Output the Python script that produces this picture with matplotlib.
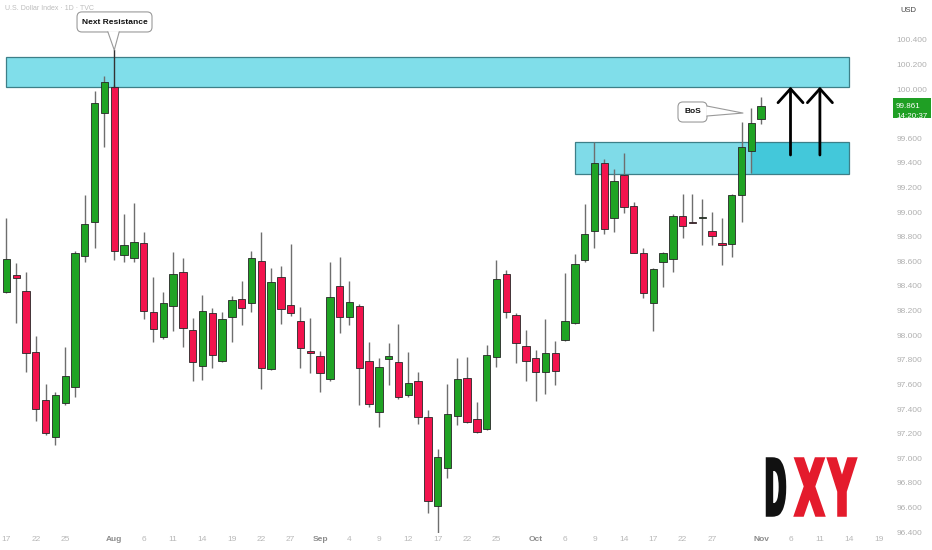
import numpy as np
import matplotlib
matplotlib.use('Agg')
import matplotlib.pyplot as plt
from matplotlib.patches import Rectangle, FancyBboxPatch, Polygon, PathPatch
from matplotlib.textpath import TextPath
from matplotlib.font_manager import FontProperties
from matplotlib.transforms import Affine2D

plt.rcParams['font.family'] = ['Liberation Sans', 'DejaVu Sans']

# 일봉 데이터 (7/17 ~ 11/3, 거래일 기준)
opens = [98.354, 98.489, 98.359, 97.866, 97.473, 97.175, 97.451, 97.576, 98.644, 98.923,
         99.804, 100.015, 98.652, 98.625, 98.752, 98.191, 97.983, 98.237, 98.511, 98.042,
         97.752, 98.183, 97.793, 98.150, 98.294, 98.259, 98.606, 97.725, 98.471, 98.246,
         98.118, 97.872, 97.833, 97.644, 98.400, 98.150, 98.240, 97.790, 97.378, 97.804,
         97.785, 97.514, 97.628, 97.337, 96.614, 96.923, 97.346, 97.650, 97.316, 97.237,
         97.820, 98.498, 98.164, 97.912, 97.817, 97.703, 97.853, 97.961, 98.097, 98.611,
         98.847, 99.398, 98.950, 99.305, 99.053, 98.671, 98.259, 98.595, 98.617, 98.969,
         98.920, 98.950, 98.845, 98.750, 98.741, 99.140, 99.500, 99.758]
highs = [98.950, 98.585, 98.511, 97.994, 97.603, 97.541, 97.907, 98.687, 99.142, 99.988,
         100.110, 100.030, 98.985, 99.077, 98.837, 98.476, 98.349, 98.674, 98.625, 98.137,
         98.327, 98.219, 98.186, 98.319, 98.441, 98.687, 98.837, 98.544, 98.563, 98.739,
         98.227, 98.137, 97.872, 98.598, 98.638, 98.443, 98.254, 97.942, 97.812, 97.934,
         98.089, 97.861, 97.703, 97.392, 97.072, 97.603, 97.812, 97.825, 97.457, 97.920,
         98.611, 98.530, 98.183, 98.042, 97.880, 98.132, 97.953, 98.503, 98.660, 99.064,
         99.568, 99.433, 99.349, 99.484, 99.081, 98.707, 98.550, 98.680, 98.983, 99.146,
         99.146, 99.105, 99.004, 98.950, 99.150, 99.731, 99.850, 99.934]
lows = [98.341, 98.102, 97.703, 97.305, 97.189, 97.107, 97.433, 97.495, 98.593, 98.707,
        99.528, 98.611, 98.598, 98.593, 98.132, 97.947, 97.967, 98.037, 97.902, 97.628,
        97.636, 97.731, 97.785, 97.947, 98.083, 98.186, 97.560, 97.717, 98.089, 98.159,
        97.736, 97.695, 97.541, 97.630, 98.020, 98.083, 97.433, 97.419, 97.256, 97.595,
        97.479, 97.495, 97.276, 96.557, 96.390, 96.837, 97.270, 97.290, 97.207, 97.229,
        97.739, 98.137, 97.776, 97.630, 97.465, 97.522, 97.598, 97.956, 98.091, 98.598,
        98.707, 98.820, 98.841, 98.996, 98.666, 98.300, 98.034, 98.394, 98.511, 98.793,
        98.910, 98.733, 98.733, 98.571, 98.633, 98.923, 99.316, 99.715]
closes = [98.617, 98.463, 97.853, 97.398, 97.202, 97.514, 97.671, 98.666, 98.902, 99.890,
          100.056, 98.687, 98.733, 98.760, 98.199, 98.048, 98.264, 98.500, 98.056, 97.785,
          98.197, 97.839, 98.132, 98.286, 98.219, 98.625, 97.736, 98.435, 98.213, 98.183,
          97.898, 97.853, 97.695, 98.308, 98.146, 98.268, 97.736, 97.441, 97.744, 97.831,
          97.500, 97.614, 97.337, 96.655, 97.012, 97.359, 97.646, 97.297, 97.213, 97.839,
          98.454, 98.186, 97.939, 97.793, 97.703, 97.853, 97.711, 98.115, 98.579, 98.823,
          99.402, 98.861, 99.254, 99.040, 98.671, 98.346, 98.538, 98.668, 98.969, 98.888,
          98.915, 98.950, 98.807, 98.733, 99.140, 99.528, 99.723, 99.861]

# 축 눈금
tick_pos = [0, 3, 6, 11, 14, 17, 20, 23, 26, 29, 32, 35, 38, 41, 44, 47, 50,
            54, 57, 60, 63, 66, 69, 72, 77, 80, 83, 86, 89]
tick_labels = ['17', '22', '25', 'Aug', '6', '11', '14', '19', '22', '27', 'Sep', '4', '9',
               '12', '17', '22', '25', 'Oct', '6', '9', '14', '17', '22', '27', 'Nov',
               '6', '11', '14', '19']
price_ticks = [96.4, 96.6, 96.8, 97.0, 97.2, 97.4, 97.6, 97.8, 98.0, 98.2, 98.4, 98.6,
               98.8, 99.0, 99.2, 99.4, 99.6, 100.0, 100.2, 100.4]
months = ['Aug', 'Sep', 'Oct', 'Nov']

# 저항/지지 구간, 화살표 위치
res_zone = [-0.05, 86.0, 100.020, 100.264]
sup_zone = [58.0, 86.0, 99.310, 99.568]
arrow_x = [80, 83]
arrow_from, arrow_to = 99.465, 100.020
last_price = 99.861
last_time = '14:20:37'

up_col = '#1fa324'
dn_col = '#f2134d'

fig = plt.figure(figsize=(9.32, 5.5), dpi=100)
ax = fig.add_axes([0, 17 / 550, 884 / 932, 533 / 550])
ax.set_xlim(-0.66, 89.54)
ax.set_ylim(96.392, 100.725)
for s in ax.spines.values():
    s.set_visible(False)

# 구간 박스
ax.add_patch(Rectangle((res_zone[0], res_zone[2]), res_zone[1] - res_zone[0],
                       res_zone[3] - res_zone[2], fc='#80deea', ec='#3d7f88', lw=0.9, zorder=1))
ax.add_patch(Rectangle((sup_zone[0], sup_zone[2]), sup_zone[1] - sup_zone[0],
                       sup_zone[3] - sup_zone[2], fc='#7fdbe8', ec='none', zorder=1))
ax.add_patch(Rectangle((76, sup_zone[2]), sup_zone[1] - 76,
                       sup_zone[3] - sup_zone[2], fc='#43c8da', ec='none', zorder=1.2))
ax.add_patch(Rectangle((sup_zone[0], sup_zone[2]), sup_zone[1] - sup_zone[0],
                       sup_zone[3] - sup_zone[2], fill=False, ec='#3d7f88', lw=0.9, zorder=1.4))

# 캔들
o = np.array(opens)
h = np.array(highs)
l = np.array(lows)
c = np.array(closes)
x = np.arange(len(o))
colors = np.where(c >= o, up_col, dn_col)
ax.vlines(x, l, h, color='#6e6e6e', lw=1, zorder=3)
ax.bar(x, np.maximum(np.abs(c - o), 0.008), bottom=np.minimum(o, c), width=0.74,
       color=colors, edgecolor='#262626', linewidth=0.6, zorder=4)

# 화살표
for xa in arrow_x:
    ax.annotate('', xy=(xa, arrow_to), xytext=(xa, arrow_from),
                arrowprops=dict(arrowstyle='->,head_length=0.5,head_width=0.45',
                                lw=2, color='black', mutation_scale=20,
                                shrinkA=0, shrinkB=0), zorder=5)

asp = 9.8 / 123

# Next Resistance 말풍선
ax.plot([11, 11], [100.318, 100.015], color='#333333', lw=1, zorder=4)
ax.add_patch(FancyBboxPatch((7.2, 100.465), 7.65, 0.163, boxstyle='round,pad=0,rounding_size=0.5',
                            mutation_aspect=asp, fc='white', ec='#9a9a9a', lw=0.8, zorder=6))
ax.add_patch(Polygon([(10.35, 100.472), (11.5, 100.472), (11, 100.318)], closed=True,
                     fc='white', ec='none', zorder=7))
ax.plot([10.35, 11, 11.5], [100.465, 100.318, 100.465], color='#9a9a9a', lw=0.8, zorder=8)
ax.text(11.02, 100.546, 'Next Resistance', ha='center', va='center', fontsize=6,
        weight='bold', color='#111111', zorder=9)

# BoS 말풍선
ax.add_patch(FancyBboxPatch((68.52, 99.733), 2.96, 0.163, boxstyle='round,pad=0,rounding_size=0.5',
                            mutation_aspect=asp, fc='white', ec='#9a9a9a', lw=0.8, zorder=6))
ax.add_patch(Polygon([(71.40, 99.863), (71.40, 99.782), (75.15, 99.806)], closed=True,
                     fc='white', ec='none', zorder=7))
ax.plot([71.48, 75.15, 71.48], [99.863, 99.806, 99.782], color='#9a9a9a', lw=0.8, zorder=8)
ax.text(70.0, 99.815, 'BoS', ha='center', va='center', fontsize=6,
        weight='bold', color='#111111', zorder=9)

# 축 설정
ax.yaxis.tick_right()
ax.set_yticks(price_ticks, ['%.3f' % p for p in price_ticks])
ax.tick_params(axis='y', length=0, pad=9, labelsize=6, labelcolor='#b0b0b0')
ax.set_xticks(tick_pos, tick_labels)
ax.tick_params(axis='x', length=0, pad=2.5, labelsize=6, labelcolor='#b8b8b8')
for t in ax.get_xticklabels():
    if t.get_text() in months:
        t.set_color('#8c8c8c')
        t.set_fontweight('bold')

# 현재가 라벨
ytr = ax.get_yaxis_transform()
ax.add_patch(Rectangle((893 / 884, 99.766), 38 / 884, 0.162, transform=ytr, clip_on=False,
                       fc='#1f9f24', ec='none', zorder=10))
ax.text(896 / 884, 99.862, '%.3f' % last_price, transform=ytr, color='white', fontsize=5.8,
        va='center', ha='left', clip_on=False, zorder=11)
ax.text(896 / 884, 99.781, last_time, transform=ytr, color='white', fontsize=5.8,
        va='center', ha='left', clip_on=False, zorder=11)

fig.text(908 / 932, 1 - 10 / 550, 'USD', ha='center', va='center', fontsize=5.5, color='#444444')
fig.text(5 / 932, 1 - 9 / 550, 'U.S. Dollar Index · 1D · TVC', ha='left', va='center',
         fontsize=5, color='#bdbdbd')

# DXY 로고 (글자별로 상자에 맞춰 늘림)
lax = fig.add_axes([760 / 932, 30 / 550, 100 / 932, 66 / 550])
lax.set_xlim(760, 860)
lax.set_ylim(30, 96)
lax.axis('off')
fp = FontProperties(family='DejaVu Sans', weight='bold')
for letter, x0, x1, col in [('D', 767, 785, '#111111'), ('X', 795, 824, '#e41b2c'),
                            ('Y', 828, 856, '#e41b2c')]:
    tp = TextPath((0, 0), letter, size=100, prop=fp)
    bb = tp.get_extents()
    tr = Affine2D().translate(-bb.x0, -bb.y0).scale((x1 - x0) / bb.width, 57 / bb.height).translate(x0, 34.5)
    lax.add_patch(PathPatch(tr.transform_path(tp), fc=col, ec=col, lw=1.8, joinstyle='miter'))

fig.savefig('out.png', dpi=100)
